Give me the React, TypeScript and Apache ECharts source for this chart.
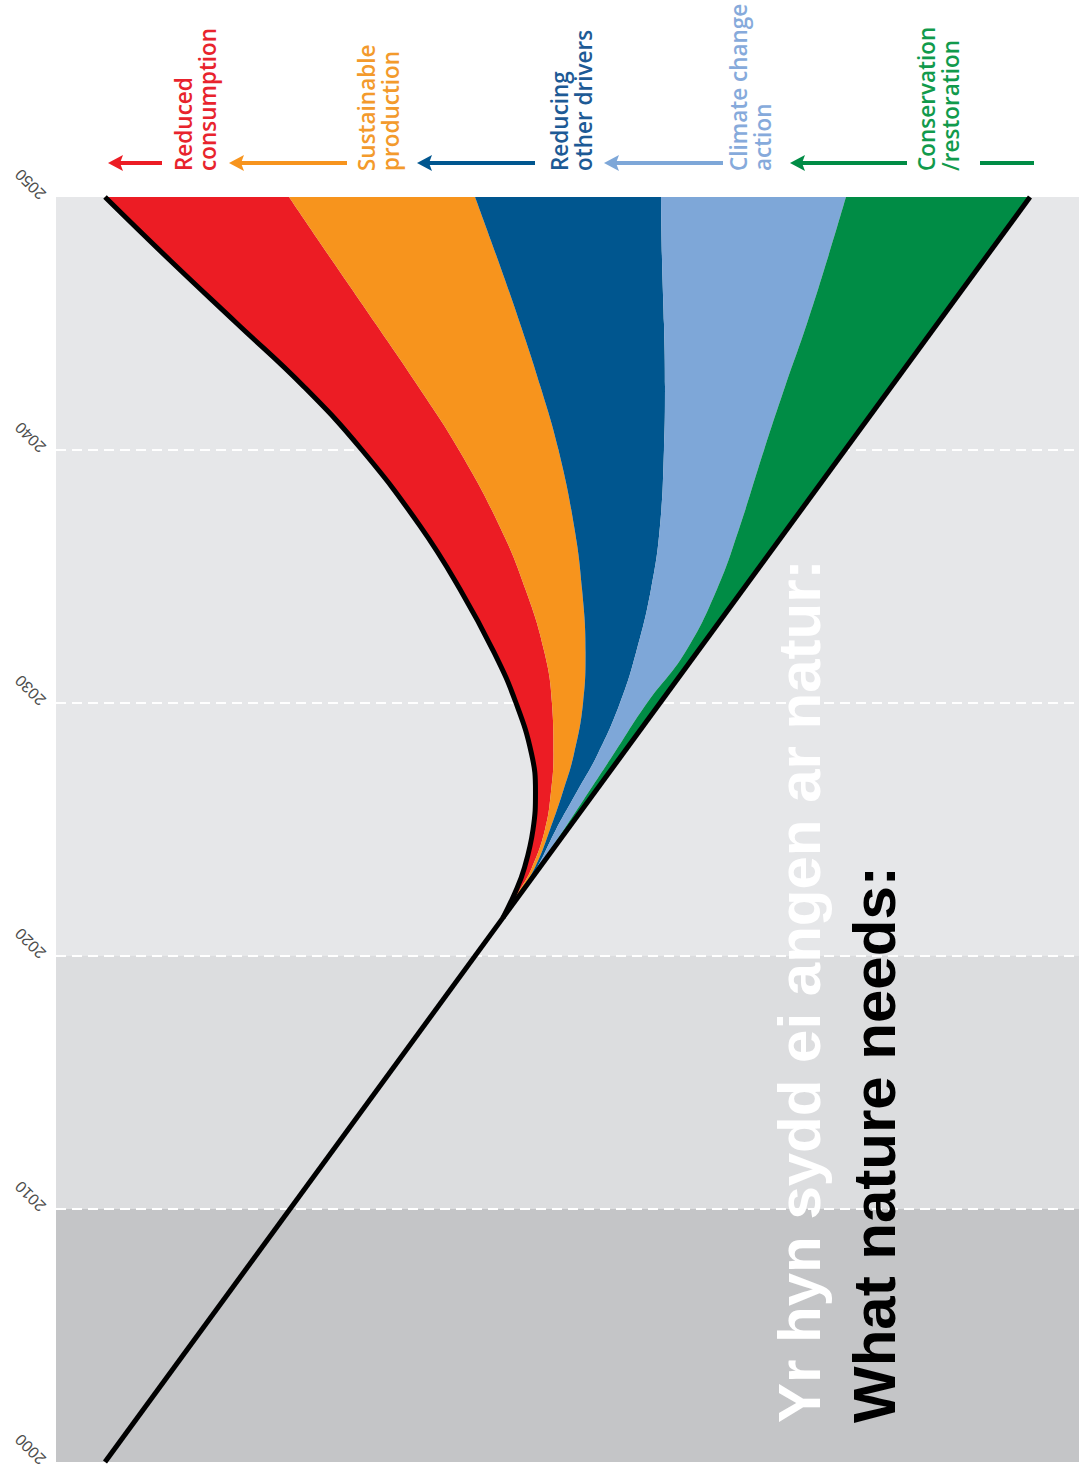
import React, { useEffect, useRef } from "react";
import * as echarts from "echarts";

// Years (vertical axis) at which the curves were read
const years = [2021.5, 2022.5, 2023.5, 2025, 2026.5, 2028, 2030, 2032, 2034.5, 2037, 2040, 2042.5, 2045, 2047.5, 2050];
// Horizontal positions (index units, 0-100) of each band boundary
const leftEdge = [43.67, 44.87, 45.8, 46.63, 46.87, 46.48, 44.97, 42.82, 39.49, 35.58, 29.91, 24.24, 17.69, 11.14, 4.79];
const consumptionEdge = [43.67, 45.16, 46.53, 47.8, 48.39, 48.63, 48.48, 47.75, 45.89, 43.35, 39.39, 35.43, 31.23, 26.98, 22.78];
const productionEdge = [43.67, 45.26, 46.82, 48.29, 49.56, 50.64, 51.52, 51.76, 51.42, 50.64, 49.12, 47.36, 45.36, 43.21, 40.96];
const driversEdge = [43.67, 45.36, 47.02, 48.88, 50.93, 52.98, 55.13, 56.7, 58.16, 59.04, 59.43, 59.53, 59.43, 59.24, 59.14];
const climateEdge = [43.67, 45.41, 47.12, 49.66, 52.1, 54.54, 57.77, 61.49, 64.61, 66.86, 69.21, 71.26, 73.41, 75.37, 77.22];
const rightEdge = [43.67, 45.48, 47.29, 50.0, 52.71, 55.43, 59.04, 62.66, 67.18, 71.7, 77.13, 81.65, 86.17, 90.69, 95.21];
// Current-trend straight line
const trendYears = [2000, 2050];
const trendValues = [4.79, 95.21];
// Decade tick labels
const yearTicks = [2000, 2010, 2020, 2030, 2040, 2050];

const bandNames = ["Reduced consumption", "Sustainable production", "Reducing other drivers", "Climate change action", "Conservation /restoration"];
const bandColors = ["#ec1c24", "#f7941d", "#00568f", "#7ea7d8", "#008c45"];
const labelLines = [
  "Reduced\nconsumption",
  "Sustainable\nproduction",
  "Reducing\nother drivers",
  "Climate change\naction",
  "Conservation\n/restoration",
];
const labelColors = ["#e8232d", "#f39a2c", "#1d5a95", "#86aadb", "#119a4c"];

const titleWelsh = "Yr hyn sydd ei angen ar natur:";
const titleEnglish = "What nature needs:";

const t = (year: number) => Date.UTC(2000, 0, 1) + (year - 2000) * 365.25 * 86400000;

export default function App() {
  const ref = useRef<HTMLDivElement>(null);
  useEffect(() => {
    if (!ref.current) return;
    const chart = echarts.init(ref.current, null, { renderer: "svg" });

    const edges = [leftEdge, consumptionEdge, productionEdge, driversEdge, climateEdge, rightEdge];
    const smooth = 0.45;
    const series: any[] = [];
    series.push({
      type: "line",
      name: "base",
      stack: "bands",
      yAxisIndex: 0,
      smooth,
      symbol: "none",
      silent: true,
      lineStyle: { width: 0, opacity: 0 },
      data: years.map((y, i) => [leftEdge[i], t(y)]),
      z: 2,
    });
    for (let b = 0; b < 5; b++) {
      const lo = edges[b];
      const hi = edges[b + 1];
      series.push({
        type: "line",
        name: bandNames[b],
        stack: "bands",
        yAxisIndex: 0,
        smooth,
        symbol: "none",
        silent: true,
        lineStyle: { width: 0, opacity: 0 },
        areaStyle: { color: bandColors[b], opacity: 1 },
        data: years.map((y, i) => [Math.max(0, hi[i] - lo[i]), t(y)]),
        z: 2,
      });
    }
    series.push({
      type: "line",
      name: "Transformative path",
      yAxisIndex: 0,
      smooth,
      symbol: "none",
      silent: true,
      lineStyle: { color: "#000", width: 5 },
      data: years.map((y, i) => [leftEdge[i], t(y)]),
      z: 5,
    });
    series.push({
      type: "line",
      name: "Current trend",
      yAxisIndex: 0,
      symbol: "none",
      silent: true,
      lineStyle: { color: "#000", width: 5 },
      data: trendYears.map((y, i) => [trendValues[i], t(y)]),
      z: 5,
    });

    const graphics: any[] = [];
    const arrowHeads = [108, 229, 417, 604, 790];
    const arrowTails = [162, 347, 535, 723, 907];
    const labelX = [171, 354, 547, 726, 914];
    const arrowY = 163;
    for (let i = 0; i < 5; i++) {
      graphics.push({
        type: "line",
        shape: { x1: arrowHeads[i] + 10, y1: arrowY, x2: arrowTails[i], y2: arrowY },
        style: { stroke: bandColors[i], lineWidth: 4 },
      });
      graphics.push({
        type: "polygon",
        shape: {
          points: [
            [arrowHeads[i], arrowY],
            [arrowHeads[i] + 15, arrowY - 8],
            [arrowHeads[i] + 12, arrowY],
            [arrowHeads[i] + 15, arrowY + 8],
          ],
        },
        style: { fill: bandColors[i] },
      });
      graphics.push({
        type: "text",
        x: labelX[i],
        y: 171,
        rotation: Math.PI / 2,
        style: {
          text: labelLines[i],
          fill: labelColors[i],
          font: "600 22.5px 'Open Sans'",
          textAlign: "left",
          textVerticalAlign: "top",
          lineHeight: 24,
        },
      });
    }
    graphics.push({
      type: "line",
      shape: { x1: 980, y1: arrowY, x2: 1034, y2: arrowY },
      style: { stroke: bandColors[4], lineWidth: 4 },
    });
    graphics.push({
      type: "text",
      x: 829,
      y: 1423,
      rotation: Math.PI / 2,
      z: 10,
      style: {
        text: titleWelsh,
        fill: "#ffffff",
        font: "bold 60px 'Liberation Sans'",
        textAlign: "left",
        textVerticalAlign: "bottom",
      },
    });
    graphics.push({
      type: "text",
      x: 904,
      y: 1423,
      rotation: Math.PI / 2,
      z: 10,
      style: {
        text: titleEnglish,
        fill: "#000000",
        font: "bold 60px 'Liberation Sans'",
        textAlign: "left",
        textVerticalAlign: "bottom",
      },
    });

    chart.setOption({
      animation: false,
      grid: { left: 56, right: 0, top: 197, bottom: 17, containLabel: false },
      xAxis: { type: "value", min: 0, max: 100, show: false },
      yAxis: [
        {
          type: "time",
          min: t(2000),
          max: t(2050),
          show: false,
        },
        {
          type: "value",
          min: yearTicks[0],
          max: yearTicks[yearTicks.length - 1],
          interval: 10,
          position: "left",
          axisLine: { show: false },
          axisTick: { show: false },
          axisLabel: {
            rotate: 135,
            color: "#4d4d4d",
            fontSize: 16,
            fontFamily: "'Liberation Sans'",
            margin: 13,
            formatter: (v: number) => String(v),
          },
          splitLine: {
            show: true,
            showMinLine: false,
            showMaxLine: false,
            lineStyle: { color: "#ffffff", type: [10, 6], width: 2 },
          },
          splitArea: {
            show: true,
            areaStyle: { color: ["#c4c5c7", "#dcdddf", "#e6e7e9", "#e6e7e9", "#e6e7e9"] },
          },
        },
      ],
      series,
      graphic: graphics,
    });
    return () => chart.dispose();
  }, []);
  return (
    <div
      ref={ref}
      style={{ position: "fixed", left: 0, top: 0, width: 1079, height: 1479, background: "#fff" }}
    />
  );
}
